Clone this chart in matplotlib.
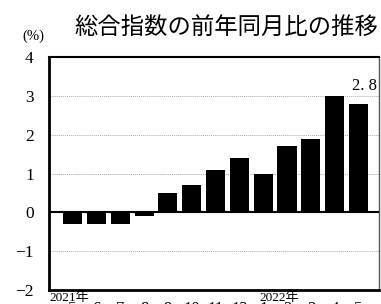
import matplotlib.pyplot as plt
import numpy as np

# year-on-year change of the overall index (%), May 2021 - May 2022
months = ["5", "6", "7", "8", "9", "10", "11", "12", "1", "2", "3", "4", "5"]
values = [-0.3, -0.3, -0.3, -0.1, 0.5, 0.7, 1.1, 1.4, 1.0, 1.7, 1.9, 3.0, 2.8]
year_labels = [(0, "2021年"), (8, "2022年")]
yticks = [-2, -1, 0, 1, 2, 3, 4]

serif = ["Liberation Serif", "Noto Sans CJK JP"]

fig = plt.figure(figsize=(3.81, 3.04), dpi=100)
ax = fig.add_axes([49 / 381, 1 - 290 / 304, 330 / 381, 233 / 304])

x = np.arange(len(values))
ax.bar(x, values, width=0.8, color="black", zorder=3)

ax.set_xlim(-0.99, len(values) - 1 + 0.86)
ax.set_ylim(-2, 4)
ax.set_yticks(yticks)
ax.set_yticklabels([f"{v}".replace("-", "\u2212") for v in yticks], family=serif, fontsize=12.5)
ax.set_xticks(x)
ax.set_xticklabels(months, family=serif, fontsize=12)
ax.tick_params(axis="both", length=0)
ax.tick_params(axis="y", pad=11)
ax.tick_params(axis="x", pad=8.2)

# dotted grid, solid zero line
for v in yticks[1:-1]:
    if v == 0:
        ax.axhline(0, color="black", lw=1.5, zorder=4)
    else:
        ax.axhline(v, color="#aaaaaa", lw=0.7, ls=(0, (1, 1)), zorder=1)

for s in ["left", "bottom"]:
    ax.spines[s].set_linewidth(2)
ax.spines["top"].set_linewidth(1.5)
ax.spines["right"].set_linewidth(1)
ax.spines["right"].set_color("#555555")

# year labels under the axis
for pos, lab in year_labels:
    xpos = -0.99 if pos == 0 else pos - 0.15
    ax.text(xpos, -2.03, lab, ha="left", va="top", fontsize=9.5, family=serif)

# value label for the latest month
ax.text(len(values) - 1 + 0.78, max(values) + 0.04, "2. 8", ha="right", va="bottom",
        fontsize=12, family=serif)

fig.text(226 / 381, 1 - 27 / 304, "総合指数の前年同月比の推移", ha="center", va="center",
         fontsize=16.8, family=["Noto Sans CJK JP"])
fig.text(33 / 381, 1 - 36 / 304, "(%)", ha="center", va="center", fontsize=10.5, family=serif)

fig.savefig("out.png", dpi=100)
